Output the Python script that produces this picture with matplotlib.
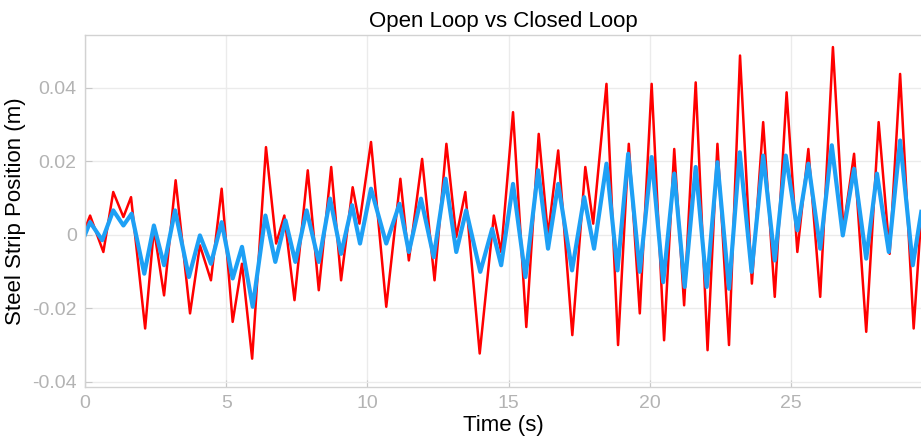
import numpy as np
import matplotlib
matplotlib.use('Agg')
import matplotlib.pyplot as plt
from matplotlib import rc

rc('font', family=['Liberation Sans', 'DejaVu Sans'])

# Peak / trough samples of the open loop response (time in s, position in m)
t_open = [0.0, 0.18, 0.65, 1.00, 1.36, 1.63, 2.13, 2.44, 2.80, 3.21, 3.72, 4.07, 4.46, 4.84,
          5.23, 5.56, 5.92, 6.41, 6.77, 7.06, 7.42, 7.89, 8.28, 8.72, 9.07, 9.48, 9.72,
          10.13, 10.67, 11.17, 11.47, 11.94, 12.38, 12.80, 13.15, 13.47, 13.98, 14.48, 14.74,
          15.16, 15.63, 16.07, 16.40, 16.76, 17.26, 17.72, 18.00, 18.47, 18.88, 19.26, 19.65,
          20.07, 20.51, 20.87, 21.22, 21.63, 22.05, 22.40, 22.81, 23.20, 23.62, 24.02, 24.43,
          24.85, 25.23, 25.62, 26.04, 26.49, 26.86, 27.24, 27.67, 28.11, 28.50, 28.87, 29.35,
          29.62]
y_open = [0.0016, 0.0052, -0.0047, 0.0116, 0.0048, 0.0102, -0.0255, 0.0016, -0.0165, 0.0148,
          -0.0214, -0.0029, -0.0124, 0.0125,
          -0.0237, -0.0079, -0.0337, 0.0238, -0.0024, 0.0052, -0.0178, 0.0175, -0.0151, 0.0184,
          -0.0124, 0.0129, 0.0030,
          0.0252, -0.0196, 0.0152, -0.0070, 0.0206, -0.0124, 0.0247, -0.0006, 0.0116, -0.0323,
          0.0052, -0.0047,
          0.0333, -0.0251, 0.0274, -0.0002, 0.0229, -0.0273, 0.0184, 0.0030, 0.0410, -0.0300,
          0.0247, -0.0214,
          0.0410, -0.0287, 0.0233, -0.0192, 0.0414, -0.0314, 0.0247, -0.0300, 0.0487, -0.0133,
          0.0306, -0.0169,
          0.0387, -0.0047, 0.0233, -0.0169, 0.0510, 0.0016, 0.0220, -0.0264, 0.0306, -0.0052,
          0.0437, -0.0255, 0.0052]

# Peak / trough samples of the closed loop response
t_closed = [0.0, 0.18, 0.61, 1.00, 1.36, 1.65, 2.10, 2.44, 2.80, 3.19, 3.68, 4.07, 4.46, 4.84,
            5.23, 5.56, 5.94, 6.39, 6.74, 7.10, 7.45, 7.85, 8.28, 8.68, 9.07, 9.46, 9.74,
            10.13, 10.67, 11.14, 11.47, 11.90, 12.35, 12.77, 13.15, 13.50, 14.00, 14.42, 14.74,
            15.16, 15.60, 16.05, 16.40, 16.76, 17.25, 17.68, 18.03, 18.47, 18.86, 19.24, 19.65,
            20.07, 20.48, 20.87, 21.24, 21.63, 22.02, 22.40, 22.81, 23.19, 23.61, 24.02, 24.43,
            24.82, 25.23, 25.62, 26.04, 26.45, 26.84, 27.24, 27.67, 28.05, 28.47, 28.87, 29.32,
            29.62]
y_closed = [0.0000, 0.0034, -0.0015, 0.0066, 0.0025, 0.0057, -0.0106, 0.0025, -0.0083, 0.0066,
            -0.0115, -0.0002, -0.0079, 0.0034,
            -0.0119, -0.0033, -0.0196, 0.0052, -0.0074, 0.0039, -0.0074, 0.0066, -0.0074, 0.0098,
            -0.0052, 0.0080, -0.0024,
            0.0125, -0.0024, 0.0084, -0.0047, 0.0098, -0.0061, 0.0152, -0.0047, 0.0066, -0.0101,
            0.0016, -0.0083,
            0.0138, -0.0115, 0.0175, -0.0038, 0.0138, -0.0097, 0.0102, -0.0038, 0.0193, -0.0097,
            0.0220, -0.0101,
            0.0211, -0.0129, 0.0166, -0.0142, 0.0184, -0.0142, 0.0197, -0.0147, 0.0224, -0.0101,
            0.0215, -0.0070,
            0.0215, 0.0012, 0.0193, -0.0038, 0.0243, -0.0002, 0.0179, -0.0065, 0.0166, -0.0047,
            0.0256, -0.0083, 0.0062]

x_ticks = [0, 5, 10, 15, 20, 25]
y_ticks = [-0.04, -0.02, 0, 0.02, 0.04]
y_ticklabels = ['-0.04', '-0.02', '0', '0.02', '0.04']

fig = plt.figure(figsize=(9.21, 4.48), dpi=100)
ax = fig.add_axes([0.0923, 0.1362, 0.9077, 0.785])

ax.plot(t_open, y_open, color='#ff0000', linewidth=1.8, solid_joinstyle='round')
ax.plot(t_closed, y_closed, color='#1ea0f5', linewidth=3.0, solid_joinstyle='round')

ax.set_xlim(0, 29.61)
ax.set_ylim(-0.0414, 0.0542)
ax.set_xticks(x_ticks)
ax.set_yticks(y_ticks)
ax.set_yticklabels(y_ticklabels)

ax.grid(True, color='#ebebeb', linewidth=1.0)
ax.set_axisbelow(True)
ax.tick_params(direction='in', length=5, width=0.8, color='#c8c8c8',
               labelcolor='#b3b3b3', labelsize=14, pad=6)
for side in ['top', 'left', 'bottom']:
    ax.spines[side].set_color('#d2d2d2')
    ax.spines[side].set_linewidth(1.0)
ax.spines['right'].set_visible(False)

ax.set_title('Open Loop vs Closed Loop', fontsize=16, color='black', pad=6)
ax.set_xlabel('Time (s)', fontsize=16, color='black', labelpad=2)
ax.set_ylabel('Steel Strip Position (m)', fontsize=16, color='black', labelpad=4)

fig.savefig('out.png', dpi=100)
